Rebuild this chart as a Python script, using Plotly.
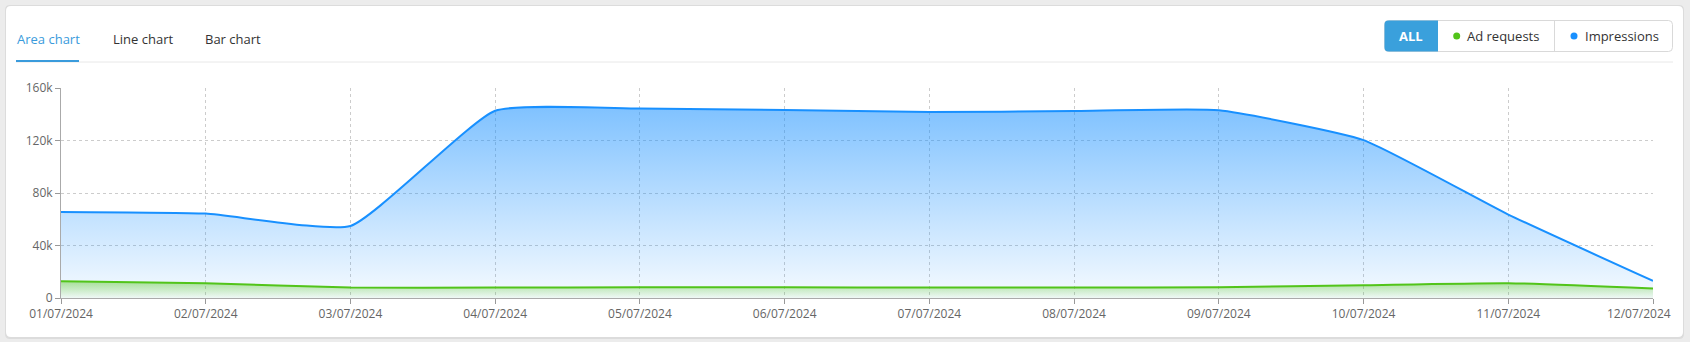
import plotly.graph_objects as go

dates = ["01/07/2024", "02/07/2024", "03/07/2024", "04/07/2024", "05/07/2024", "06/07/2024",
         "07/07/2024", "08/07/2024", "09/07/2024", "10/07/2024", "11/07/2024", "12/07/2024"]
impressions = [65600, 64300, 54900, 142700, 144300, 143300, 141700, 142400, 143000, 120300, 63600, 13000]
ad_requests = [12800, 11300, 8000, 8000, 8100, 8100, 8000, 8000, 8200, 9800, 11300, 7300]
y_tickvals = [0, 40000, 80000, 120000, 160000]
y_ticktext = ["0", "40k", "80k", "120k", "160k"]
tabs = ["Area chart", "Line chart", "Bar chart"]
legend_items = ["ALL", "Ad requests", "Impressions"]

W, H = 1690, 342
L, R, T, B = 61, 1653, 88, 298

def px(x):
    return (x - L) / (R - L)

def py(y):
    return (B - y) / (B - T)

def rrect(x0, y0, x1, y1, r):
    a, b, c, d = px(x0), px(x1), py(y0), py(y1)
    rx = r / (R - L)
    ry = r / (B - T)
    return (f"M {a+rx},{c} L {b-rx},{c} Q {b},{c} {b},{c-ry} L {b},{d+ry} Q {b},{d} {b-rx},{d} "
            f"L {a+rx},{d} Q {a},{d} {a},{d+ry} L {a},{c-ry} Q {a},{c} {a+rx},{c} Z")

fig = go.Figure()

fig.add_trace(go.Scatter(
    x=dates, y=impressions, mode="lines", name="Impressions",
    line=dict(color="#1890ff", width=2, shape="spline", smoothing=0.45),
    fill="tozeroy",
    fillgradient=dict(type="vertical", start=0, stop=145000,
                      colorscale=[[0, "rgba(24,144,255,0.04)"], [1, "rgba(24,144,255,0.55)"]]),
))
fig.add_trace(go.Scatter(
    x=dates, y=ad_requests, mode="lines", name="Ad requests",
    line=dict(color="#52c41a", width=2, shape="spline", smoothing=0.5),
    fill="tozeroy",
    fillgradient=dict(type="vertical", start=0, stop=12800,
                      colorscale=[[0, "rgba(82,196,26,0.04)"], [1, "rgba(82,196,26,0.45)"]]),
))

shapes = []
shapes.append(dict(type="path", xref="paper", yref="paper", path=rrect(5, 5, 1684, 339, 5),
                   fillcolor="#dcdcdc", line=dict(width=0), layer="below"))
shapes.append(dict(type="path", xref="paper", yref="paper", path=rrect(6, 6, 1683, 337, 5),
                   fillcolor="white", line=dict(width=0), layer="below"))
shapes.append(dict(type="line", xref="paper", yref="paper", x0=px(16), x1=px(1673), y0=py(62), y1=py(62),
                   line=dict(color="#e8e8e8", width=1)))
shapes.append(dict(type="line", xref="paper", yref="paper", x0=px(16), x1=px(79), y0=py(61), y1=py(61),
                   line=dict(color="#3a9bdc", width=2)))
shapes.append(dict(type="path", xref="paper", yref="paper", path=rrect(1384.5, 20.5, 1672.5, 51.5, 4),
                   fillcolor="white", line=dict(color="#d9d9d9", width=1)))
a, b, c, d = px(1384.5), px(1438), py(20.5), py(51.5)
rx, ry = 4 / (R - L), 4 / (B - T)
shapes.append(dict(type="path", xref="paper", yref="paper",
                   path=f"M {a+rx},{c} L {b},{c} L {b},{d} L {a+rx},{d} Q {a},{d} {a},{d+ry} L {a},{c-ry} Q {a},{c} {a+rx},{c} Z",
                   fillcolor="#3aa0dc", line=dict(width=0)))
shapes.append(dict(type="line", xref="paper", yref="paper", x0=px(1554.5), x1=px(1554.5), y0=py(21), y1=py(51),
                   line=dict(color="#d9d9d9", width=1)))
for cx, col in [(1456.7, "#52c41a"), (1574, "#1890ff")]:
    shapes.append(dict(type="circle", xref="paper", yref="paper", x0=px(cx - 3.5), x1=px(cx + 3.5),
                       y0=py(36 - 3.5), y1=py(36 + 3.5), fillcolor=col, line=dict(width=0)))

annotations = []
tab_pos = [16, 112, 204]
for i, (t, xx) in enumerate(zip(tabs, tab_pos)):
    annotations.append(dict(xref="paper", yref="paper", x=px(xx - 1), y=py(39), text=t, showarrow=False,
                            xanchor="left", yanchor="middle",
                            font=dict(family="Open Sans", size=13, color="#3a9bdc" if i == 0 else "#333333")))
annotations.append(dict(xref="paper", yref="paper", x=px(1411), y=py(36), text="<b>" + legend_items[0] + "</b>",
                        showarrow=False, xanchor="center", yanchor="middle",
                        font=dict(family="Open Sans", size=13, color="white")))
for t, xx in [(legend_items[1], 1465), (legend_items[2], 1583)]:
    annotations.append(dict(xref="paper", yref="paper", x=px(xx), y=py(36), text=t, showarrow=False,
                            xanchor="left", yanchor="middle",
                            font=dict(family="Open Sans", size=13, color="#333333")))
# last x tick label is kept inside the plot area (as in the original)
annotations.append(dict(xref="x", yref="paper", x=dates[-1], y=0, text=dates[-1], showarrow=False,
                        xanchor="right", yanchor="top", xshift=20, yshift=-5,
                        font=dict(family="Open Sans", size=12, color="#666666")))

fig.update_layout(
    width=W, height=H,
    margin=dict(l=L, r=W - R, t=T, b=H - B, pad=0),
    paper_bgcolor="#ececec",
    plot_bgcolor="rgba(0,0,0,0)",
    showlegend=False,
    shapes=shapes,
    annotations=annotations,
    font=dict(family="Open Sans", size=12, color="#666666"),
    xaxis=dict(type="category", range=[0, len(dates) - 1], tickvals=dates, ticktext=dates[:-1] + [""],
               showgrid=True, gridcolor="#cccccc",
               griddash="3px,3px", gridwidth=1, showline=True, linecolor="#aaaaaa", linewidth=1,
               ticks="outside", ticklen=5, tickcolor="#999999", zeroline=False, automargin=False,
               tickfont=dict(family="Open Sans", size=12, color="#666666")),
    yaxis=dict(range=[0, 160000], tickvals=y_tickvals, ticktext=y_ticktext, showgrid=True,
               gridcolor="#cccccc", griddash="3px,3px", gridwidth=1, showline=True, automargin=False,
               linecolor="#aaaaaa", linewidth=1, ticks="outside", ticklen=5, tickcolor="#999999",
               zeroline=False, tickfont=dict(family="Open Sans", size=12, color="#666666")),
)

fig.write_html("out.html")
